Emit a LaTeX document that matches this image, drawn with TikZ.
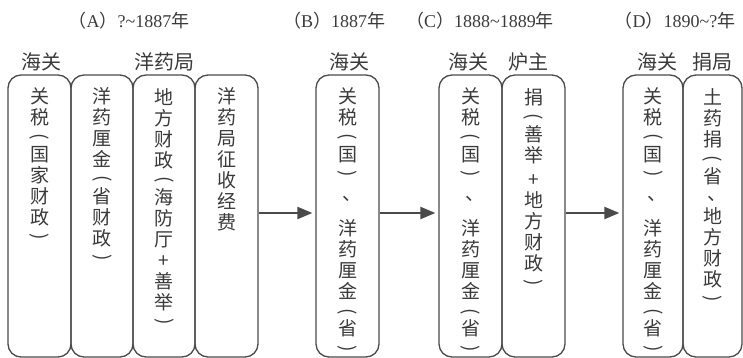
\documentclass[tikz,border=0pt]{standalone}
\usepackage{fontspec}
\usepackage{graphicx}
\setmainfont{Liberation Serif}
\newfontfamily\cjk{Noto Sans CJK SC}
\usetikzlibrary{arrows.meta}
\definecolor{ln}{HTML}{4A4A4A}
\definecolor{tx}{HTML}{3A3A3A}
\newcommand\vlp{\rotatebox[origin=c]{-90}{(}}
\newcommand\vrp{\rotatebox[origin=c]{-90}{)}}
\newcommand\vcomma{{\kern8pt 、}}
\tikzset{
  box/.style={draw=ln, line width=1.3pt, rounded corners=13pt, minimum height=282pt, inner sep=0pt},
  vt/.style={anchor=north, align=center, inner sep=0pt, text=tx, font=\cjk\fontsize{19}{21}\selectfont},
  hd/.style={text=tx, inner sep=0pt, font=\cjk\fontsize{20}{22}\selectfont},
  ttl/.style={text=tx, inner sep=0pt, font=\fontsize{18}{20}\selectfont},
  arr/.style={draw=ln, line width=2.2pt, -{Triangle[length=15pt,width=12pt]}, shorten >=3pt}
}
\begin{document}
\begin{tikzpicture}[x=1pt,y=-1pt]
\useasboundingbox (0,0) rectangle (743,358);
% boxes
\node[box, minimum width=63pt] (a1) at (39.5,216) {};
\node[box, minimum width=62pt] (a2) at (102,216) {};
\node[box, minimum width=62pt] (a3) at (164,216) {};
\node[box, minimum width=63pt] (a4) at (226.5,216) {};
\node[box, minimum width=63pt] (b1) at (347.5,216) {};
\node[box, minimum width=63pt] (c1) at (470.5,216) {};
\node[box, minimum width=63pt] (c2) at (533.5,216) {};
\node[box, minimum width=60pt] (d1) at (653,216) {};
\node[box, minimum width=59pt] (d2) at (712.5,216) {};
% vertical texts
\node[vt] (ta1) at ([yshift=-13pt]a1.north) {关\\税\\[-2.5pt]\vlp\\[-2.5pt]国\\家\\财\\政\\[-2.5pt]\vrp};
\node[vt] (ta2) at ([yshift=-13pt]a2.north) {洋\\药\\厘\\金\\[-2.5pt]\vlp\\[-2.5pt]省\\财\\政\\[-2.5pt]\vrp};
\node[vt] (ta3) at ([yshift=-14pt]a3.north) {地\\方\\财\\政\\[-2.5pt]\vlp\\[-2.5pt]海\\防\\厅\\+\\善\\举\\[-2.5pt]\vrp};
\node[vt] (ta4) at ([yshift=-13pt]a4.north) {洋\\药\\局\\征\\收\\经\\费};
\node[vt] (tb1) at ([yshift=-13pt]b1.north) {关\\税\\[-2.5pt]\vlp\\[-2.5pt]国\\[-2.5pt]\vrp\\[0pt]\vcomma\\[14pt]洋\\药\\厘\\金\\[-2.5pt]\vlp\\[-2.5pt]省\\[-2.5pt]\vrp};
\node[vt] (tc1) at ([yshift=-13pt]c1.north) {关\\税\\[-2.5pt]\vlp\\[-2.5pt]国\\[-2.5pt]\vrp\\[0pt]\vcomma\\[14pt]洋\\药\\厘\\金\\[-2.5pt]\vlp\\[-2.5pt]省\\[-2.5pt]\vrp};
\node[vt] (tc2) at ([yshift=-14pt]c2.north) {捐\\[-2.5pt]\vlp\\[-2.5pt]善\\举\\[3pt]+\\地\\方\\财\\政\\[-2.5pt]\vrp};
\node[vt] (td1) at ([yshift=-13pt]d1.north) {关\\税\\[-2.5pt]\vlp\\[-2.5pt]国\\[-2.5pt]\vrp\\[0pt]\vcomma\\[14pt]洋\\药\\厘\\金\\[-2.5pt]\vlp\\[-2.5pt]省\\[-2.5pt]\vrp};
\node[vt] (td2) at ([yshift=-14pt]d2.north) {土\\药\\捐\\[-2.5pt]\vlp\\[-2.5pt]省\\[-4pt]\vcomma\\[2pt]地\\方\\财\\政\\[-2.5pt]\vrp};
% headers
\node[hd] (ha1) at (41,62) {海关};
\node[hd] (ha2) at (164,62) {洋药局};
\node[hd] (hb1) at (349,62) {海关};
\node[hd] (hc1) at (468,62) {海关};
\node[hd] (hc2) at (528,62) {炉主};
\node[hd] (hd1) at (657,62) {海关};
\node[hd] (hd2) at (712,62) {捐局};
% titles
\node[ttl] (tA) at (129,21) {{\cjk （}A{\cjk ）}?\textasciitilde1887{\cjk 年}};
\node[ttl] (tB) at (334,21) {{\cjk （}B{\cjk ）}1887{\cjk 年}};
\node[ttl] (tC) at (480,21) {{\cjk （}C{\cjk ）}1888\textasciitilde1889{\cjk 年}};
\node[ttl] (tD) at (675,21) {{\cjk （}D{\cjk ）}1890\textasciitilde?{\cjk 年}};
% arrows
\draw[arr] (a4.east |- 0,213) -- (b1.west |- 0,213);
\draw[arr] (b1.east |- 0,213) -- (c1.west |- 0,213);
\draw[arr] (c2.east |- 0,213) -- (d1.west |- 0,213);
\end{tikzpicture}
\end{document}
